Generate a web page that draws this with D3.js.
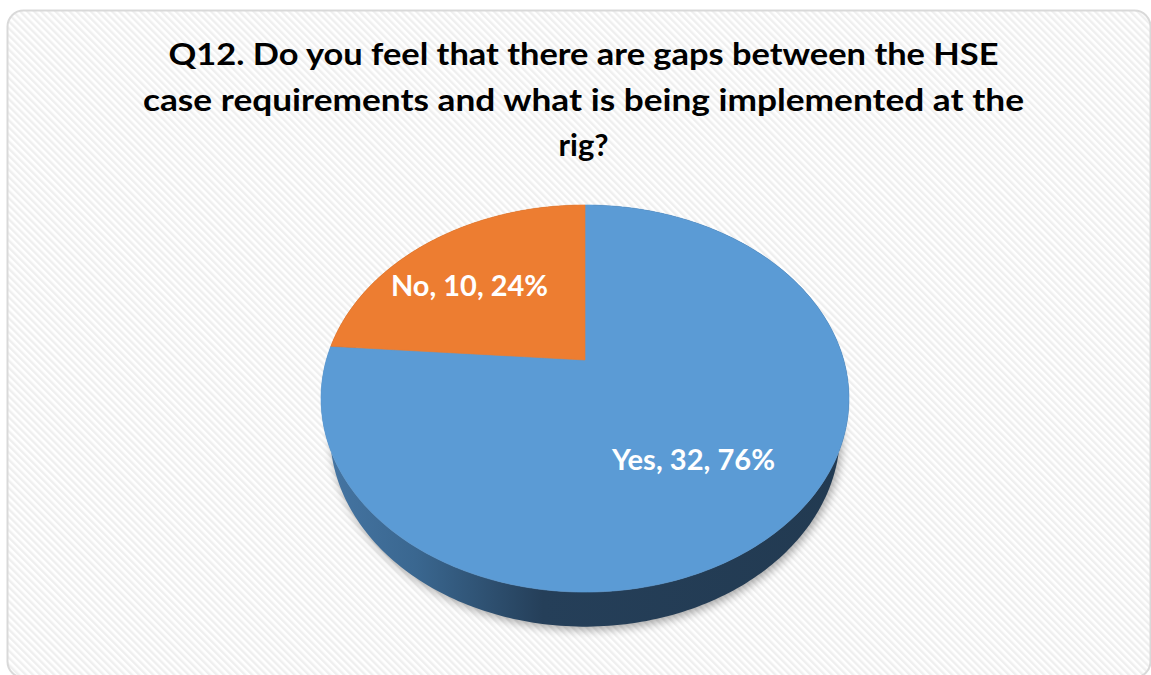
<!DOCTYPE html>
<html>
<head>
<meta charset="utf-8">
<script src="https://cdn.jsdelivr.net/npm/d3@7"></script>
<style>
  html, body { margin: 0; padding: 0; background: #ffffff; }
  svg { display: block; }
</style>
</head>
<body>
<svg id="chart" width="1151" height="675"></svg>
<script>
// Survey answers for Q12
const categories = ["Yes", "No"];
const counts = [32, 10];
const percents = ["76%", "24%"];
const colors = ["#5b9bd5", "#ed7d31"];
const titleLines = [
  "Q12. Do you feel that there are gaps between the HSE",
  "case requirements and what is being implemented at the",
  "rig?"
];

const W = 1151, H = 675;
const svg = d3.select("#chart");
const defs = svg.append("defs");

// Diagonal fine hatch for the chart area
const hatch = defs.append("pattern")
  .attr("id", "hatch")
  .attr("patternUnits", "userSpaceOnUse")
  .attr("width", 5).attr("height", 5)
  .attr("patternTransform", "rotate(-45)");
hatch.append("rect").attr("width", 5).attr("height", 5).attr("fill", "#ffffff");
hatch.append("rect").attr("width", 2.4).attr("height", 5).attr("fill", "#efefef");

// Outer chart frame
svg.append("rect")
  .attr("x", 7.5).attr("y", 10.5)
  .attr("width", 1143).attr("height", 667)
  .attr("rx", 16).attr("ry", 16)
  .attr("fill", "url(#hatch)")
  .attr("stroke", "#d9d9d9")
  .attr("stroke-width", 2);

// Title
const title = svg.append("g")
  .attr("font-family", "Lato, 'Open Sans', sans-serif")
  .attr("font-weight", "bold")
  .attr("font-size", 31)
  .attr("fill", "#000000")
  .attr("text-anchor", "middle");
const titleWidths = [830, 881, null];
titleLines.forEach((t, i) => {
  const el = title.append("text")
    .attr("x", 583.5)
    .attr("y", 65 + i * 45.5)
    .text(t);
  if (titleWidths[i]) el.attr("textLength", titleWidths[i]).attr("lengthAdjust", "spacingAndGlyphs");
});

// Tilted pie geometry with perspective: a unit disc mapped onto the page
const cx = 585, cy = 360;   // pie centre on the page
const A = 258.7, B = 185.9; // horizontal / depth scale
const k = 0.199;            // perspective strength
const depth = 34;           // thickness of the pie
const shrink = 0.966;       // underside sits farther from the eye

function project(theta, bottom) {
  const u = Math.sin(theta), v = -Math.cos(theta);
  const w = 1 - k * v;
  const s = bottom ? shrink : 1;
  return [cx + A * u * s / w, cy + (B * v * s + (bottom ? depth : 0)) / w];
}
function arcPoints(a0, a1, bottom) {
  const n = Math.max(8, Math.ceil((a1 - a0) / (Math.PI / 180)));
  return d3.range(n + 1).map(i => project(a0 + (a1 - a0) * i / n, bottom));
}

const pie = d3.pie().sort(null).value(d => d.count);
const data = categories.map((c, i) => ({ name: c, count: counts[i], pct: percents[i], color: colors[i] }));
const arcs = pie(data);

// Side shading gradient
const sideGrad = defs.append("linearGradient")
  .attr("id", "sideGrad")
  .attr("gradientUnits", "userSpaceOnUse")
  .attr("x1", 320).attr("x2", 851).attr("y1", 0).attr("y2", 0);
[[0, "#4676a4"], [0.18, "#3a6790"], [0.42, "#253f59"], [1, "#223a51"]]
  .forEach(([o, c]) => sideGrad.append("stop").attr("offset", o).attr("stop-color", c));

// Soft shadow under the pie
const shadow = defs.append("filter").attr("id", "shadow")
  .attr("x", "-20%").attr("y", "-20%").attr("width", "140%").attr("height", "140%");
shadow.append("feGaussianBlur").attr("stdDeviation", 5);

const line = d3.line();
const bottomOutline = arcPoints(0, 2 * Math.PI, true);
svg.append("path")
  .attr("d", line(bottomOutline.map(p => [p[0] + 2, p[1] + 3])) + "Z")
  .attr("fill", "#000000")
  .attr("opacity", 0.35)
  .attr("filter", "url(#shadow)");

// Side walls of each slice
const sideColors = { "Yes": "url(#sideGrad)", "No": "#8f4a1c" };
arcs.forEach(a => {
  const top = arcPoints(a.startAngle, a.endAngle, false);
  const bot = arcPoints(a.startAngle, a.endAngle, true).reverse();
  svg.append("path")
    .attr("d", line(top.concat(bot)) + "Z")
    .attr("fill", sideColors[a.data.name]);
});

// Top faces
arcs.forEach(a => {
  const pts = [[cx, cy]].concat(arcPoints(a.startAngle, a.endAngle, false));
  svg.append("path")
    .attr("d", line(pts) + "Z")
    .attr("fill", a.data.color)
    .attr("stroke", a.data.color)
    .attr("stroke-width", 0.6);
});

// Data labels
const labelPos = { "Yes": [693.5, 470], "No": [469.5, 296] };
const labelWidth = { "Yes": 163, "No": 157 };
arcs.forEach(a => {
  const [x, y] = labelPos[a.data.name];
  svg.append("text")
    .attr("x", x).attr("y", y)
    .attr("text-anchor", "middle")
    .attr("font-family", "Lato, 'Open Sans', sans-serif")
    .attr("font-weight", "bold")
    .attr("font-size", 28)
    .attr("fill", "#ffffff")
    .attr("textLength", labelWidth[a.data.name])
    .attr("lengthAdjust", "spacingAndGlyphs")
    .text(`${a.data.name}, ${a.data.count}, ${a.data.pct}`);
});
</script>
</body>
</html>
